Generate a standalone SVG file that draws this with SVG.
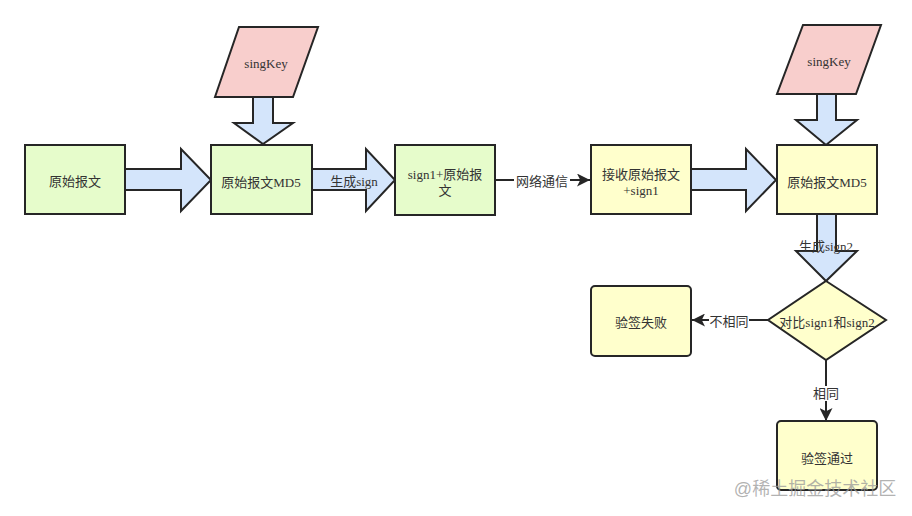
<svg xmlns="http://www.w3.org/2000/svg" width="912" height="516" viewBox="0 0 912 516">
<defs>
<style>
.box{stroke:#262626;stroke-width:2}
.green{fill:#e6fccb}
.yellow{fill:#ffffcc}
.pink{fill:#f8cecc}
.big{fill:#d4e5fb;stroke:#262626;stroke-width:2;stroke-linejoin:miter}
.line{stroke:#262626;stroke-width:2;fill:none}
text{font-family:"Liberation Serif","Noto Sans CJK SC",serif;font-size:13px;fill:#333;text-anchor:middle;dominant-baseline:central}
.wm{font-family:"Liberation Sans","Noto Sans CJK SC",sans-serif;font-size:18px;fill:#999;fill-opacity:0.75}
</style>
<marker id="ah" viewBox="0 0 10 10" refX="10" refY="5" markerWidth="6.5" markerHeight="6.5" orient="auto" markerUnits="strokeWidth">
<path d="M0,0 L10,5 L0,10 L2.5,5 Z" fill="#262626"/>
</marker>
</defs>
<rect width="912" height="516" fill="#ffffff"/>

<g id="connectors">
<polygon class="big" points="253,97 273,97 273,123 293,123 263,144 234,123 253,123"/>
<polygon class="big" points="125,169 181,169 181,149 211,180 181,211 181,190 125,190"/>
<polygon class="big" points="312,169 366,169 366,149 395,180 366,211 366,190 312,190"/>
<text x="354" y="181">生成sign</text>
<line class="line" x1="495" y1="180" x2="590" y2="180" marker-end="url(#ah)"/>
<rect x="514" y="173" width="56" height="15" fill="#ffffff"/>
<text x="542" y="181">网络通信</text>
<polygon class="big" points="691,169 746,169 746,149 776,180 746,211 746,190 691,190"/>
<polygon class="big" points="817,94 836,94 836,120 857,120 826,145 796,120 817,120"/>
<polygon class="big" points="817,214 836,214 836,251 857,251 826,281 796,251 817,251"/>
<text x="826" y="246">生成sign2</text>
<line class="line" x1="768" y1="320" x2="692" y2="320" marker-end="url(#ah)"/>
<rect x="709" y="313" width="40" height="15" fill="#ffffff"/>
<text x="729" y="321">不相同</text>
<line class="line" x1="826" y1="360" x2="826" y2="421" marker-end="url(#ah)"/>
<rect x="812" y="386" width="28" height="15" fill="#ffffff"/>
<text x="826" y="393">相同</text>
</g>

<g id="n1">
<rect class="box green" x="25" y="145" width="100" height="69"/>
<text x="75" y="181">原始报文</text>
</g>
<g id="key1">
<polygon class="box pink" points="239,27 318,27 293,97 215,97"/>
<text x="266" y="63">singKey</text>
</g>
<g id="n2">
<rect class="box green" x="211" y="145" width="101" height="69"/>
<text x="261" y="182">原始报文MD5</text>
</g>
<g id="n3">
<rect class="box green" x="395" y="145" width="100" height="70"/>
<text x="445" y="174">sign1+原始报</text>
<text x="445" y="190">文</text>
</g>
<g id="n4">
<rect class="box yellow" x="591" y="145" width="100" height="69"/>
<text x="641" y="174">接收原始报文</text>
<text x="641" y="190">+sign1</text>
</g>
<g id="key2">
<polygon class="box pink" points="803,25 881,25 856,94 777,94"/>
<text x="829" y="61">singKey</text>
</g>
<g id="n5">
<rect class="box yellow" x="777" y="145" width="100" height="69"/>
<text x="827" y="182">原始报文MD5</text>
</g>
<g id="d1">
<polygon class="box yellow" points="826,281 886,320 826,360 768,320"/>
<text x="827" y="322">对比sign1和sign2</text>
</g>
<g id="fail">
<rect class="box yellow" x="591" y="286" width="100" height="70" rx="4"/>
<text x="641" y="322">验签失败</text>
</g>
<g id="pass">
<rect class="box yellow" x="777" y="421" width="100" height="69" rx="4"/>
<text x="827" y="458">验签通过</text>
</g>
<text class="wm" x="815" y="489">@稀土掘金技术社区</text>
</svg>
